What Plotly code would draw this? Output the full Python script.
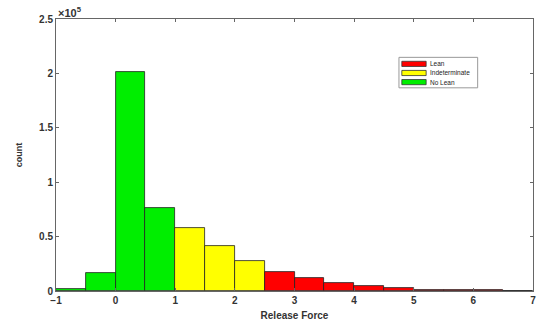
import plotly.graph_objects as go

# ---- data ----
bin_edges_left = [-1, -0.5, 0, 0.5, 1, 1.5, 2, 2.5, 3, 3.5, 4, 4.5, 5, 5.5, 6, 6.5]
counts = [2000, 16500, 201000, 76500, 57500, 41000, 27500, 17500, 11500, 7500,
          4500, 2700, 1300, 900, 600, 400]
categories = ["No Lean", "No Lean", "No Lean", "No Lean",
              "Indeterminate", "Indeterminate", "Indeterminate",
              "Lean", "Lean", "Lean", "Lean", "Lean", "Lean", "Lean", "Lean", "Lean"]
legend_order = ["Lean", "Indeterminate", "No Lean"]
colors = {"Lean": "#ff0000", "Indeterminate": "#ffff00", "No Lean": "#00ee00"}
bin_width = 0.5
y_tick_vals = [0, 50000, 100000, 150000, 200000, 250000]
y_tick_text = ["0", "0.5", "1", "1.5", "2", "2.5"]
x_tick_vals = [-1, 0, 1, 2, 3, 4, 5, 6, 7]

FONT = "Liberation Sans, Arial, sans-serif"

fig = go.Figure()
for cat in ["No Lean", "Indeterminate", "Lean"]:
    xs = [b + bin_width / 2 for b, c in zip(bin_edges_left, categories) if c == cat]
    ys = [v for v, c in zip(counts, categories) if c == cat]
    fig.add_trace(go.Bar(
        x=xs, y=ys, width=bin_width, name=cat,
        marker=dict(color=colors[cat], line=dict(color="#222222", width=0.8)),
        showlegend=False,
    ))

# custom MATLAB-style legend
lx0, lx1, ly_top, ly_bot = 0.719, 0.884, 0.859, 0.747
fig.add_shape(type="rect", xref="paper", yref="paper", x0=lx0, x1=lx1, y0=ly_bot, y1=ly_top,
              line=dict(color="#999999", width=1), fillcolor="white")
row_y0, row_step, half_h = 0.835, 0.0335, 0.0095
for i, cat in enumerate(legend_order):
    yc = row_y0 - i * row_step
    fig.add_shape(type="rect", xref="paper", yref="paper", x0=0.725, x1=0.776,
                  y0=yc - half_h, y1=yc + half_h,
                  line=dict(color="#333333", width=0.8), fillcolor=colors[cat])
    fig.add_annotation(xref="paper", yref="paper", x=0.779, y=yc, text=cat,
                       showarrow=False, xanchor="left", yanchor="middle",
                       font=dict(family=FONT, size=6.5, color="#222222"))

# exponent label
fig.add_annotation(xref="paper", yref="paper", x=0.0, y=1.0, text="×10<sup>5</sup>",
                   showarrow=False, xanchor="left", yanchor="bottom", yshift=-2,
                   font=dict(family=FONT, size=11, color="#333333", weight="bold"))

axis_common = dict(showline=True, linecolor="#666666", linewidth=1, mirror="ticks",
                   ticks="inside", ticklen=3, tickcolor="#666666", showgrid=False,
                   zeroline=False, ticklabeloverflow="allow")

fig.update_layout(
    width=539, height=327,
    margin=dict(l=56, r=3, t=19, b=36),
    paper_bgcolor="white", plot_bgcolor="white",
    bargap=0,
    font=dict(family=FONT, color="#333333"),
    xaxis=dict(range=[-1, 7], tickvals=x_tick_vals,
               tickfont=dict(size=10, weight="bold", family=FONT, color="#333333"),
               title=dict(text="Release Force", standoff=6,
                          font=dict(size=10, weight="bold", family=FONT, color="#333333")),
               **axis_common),
    yaxis=dict(range=[0, 250000], tickvals=y_tick_vals, ticktext=y_tick_text,
               tickfont=dict(size=10, weight="bold", family=FONT, color="#333333"),
               title=dict(text="count", standoff=14,
                          font=dict(size=9, weight="bold", family=FONT, color="#333333")),
               **axis_common),
)

fig.write_html("out.html", config={"displayModeBar": False},
               post_script="document.body.style.margin='0';document.body.style.overflow='hidden';")
